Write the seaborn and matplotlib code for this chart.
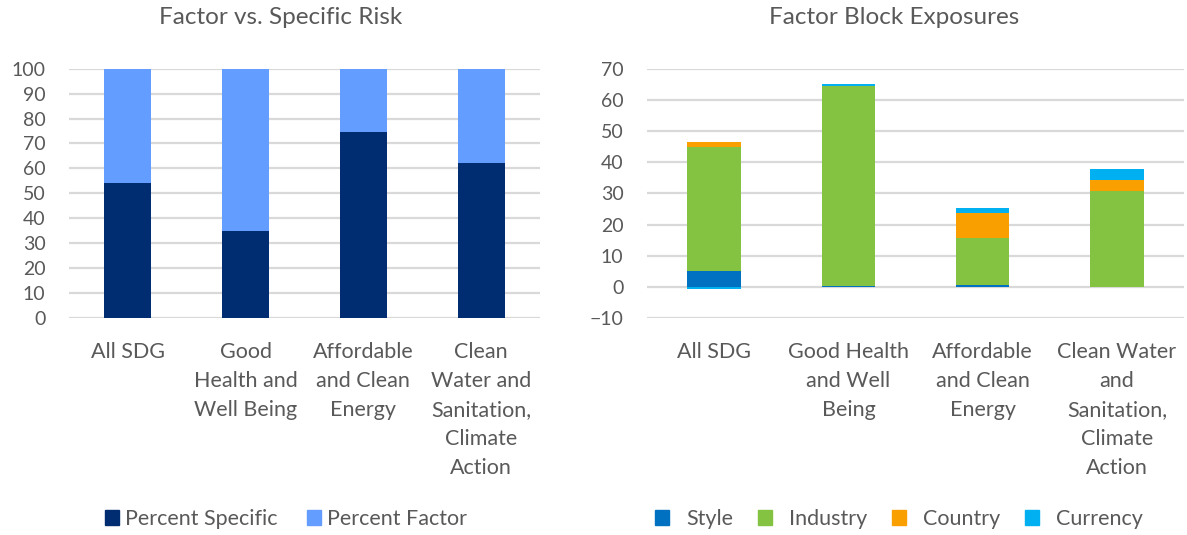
import numpy as np
import pandas as pd
import matplotlib
matplotlib.use("Agg")
import matplotlib.pyplot as plt
import seaborn as sns
from matplotlib.patches import Patch

# ---- data -------------------------------------------------------------
risk_categories = ["All SDG", "Good\nHealth and\nWell Being", "Affordable\nand Clean\nEnergy",
                   "Clean\nWater and\nSanitation,\nClimate\nAction"]
pct_specific = [54.0, 34.7, 74.5, 62.3]
pct_factor = [46.0, 65.3, 25.5, 37.7]

block_categories = ["All SDG", "Good Health\nand Well\nBeing", "Affordable\nand Clean\nEnergy",
                    "Clean Water\nand\nSanitation,\nClimate\nAction"]
style_exp = [5.2, 0.2, 0.7, 0.1]
industry_exp = [39.7, 64.4, 14.9, 30.7]
country_exp = [1.5, 0.0, 8.0, 3.5]
currency_exp = [-0.7, 0.4, 1.7, 3.4]

risk_yticks = list(range(0, 101, 10))
block_yticks = list(range(-10, 71, 10))

# ---- style ------------------------------------------------------------
sns.set_theme(style="white")
plt.rcParams["font.family"] = ["Lato", "DejaVu Sans"]
TEXT = "#595959"
GRID = "#D9D9D9"
FS_TICK = 14
FS_CAT = 15.5
FS_LEG = 15.5
FS_TITLE = 17.5

W, H = 1187, 535
fig = plt.figure(figsize=(W / 100, H / 100), dpi=100)


def px_axes(x0, x1, y0, y1):
    return fig.add_axes([x0 / W, 1 - y1 / H, (x1 - x0) / W, (y1 - y0) / H])


def style_axes(ax, yticks, labels):
    ax.set_ylim(yticks[0], yticks[-1])
    ax.set_xlim(-0.5, len(labels) - 0.5)
    ax.set_yticks(yticks)
    ax.set_xticks(range(len(labels)))
    ax.set_xticklabels(labels, linespacing=1.57, fontsize=FS_CAT)
    ax.tick_params(axis="both", length=0, colors=TEXT)
    ax.tick_params(axis="y", labelsize=FS_TICK, pad=17)
    ax.tick_params(axis="x", pad=17)
    ax.yaxis.grid(True, color=GRID, linewidth=1.6)
    ax.set_axisbelow(True)
    for s in ax.spines.values():
        s.set_visible(False)
    ax.set_xlabel("")
    ax.set_ylabel("")


def stacked(ax, cats, series, colors):
    pos_base = np.zeros(len(cats))
    neg_base = np.zeros(len(cats))
    for vals, col in zip(series, colors):
        vals = np.asarray(vals, dtype=float)
        base = np.where(vals >= 0, pos_base, neg_base)
        df = pd.DataFrame({"cat": cats, "val": vals})
        sns.barplot(data=df, x="cat", y="val", bottom=base, color=col,
                    width=0.4, saturation=1, ax=ax, errorbar=None,
                    edgecolor="none", linewidth=0)
        pos_base = pos_base + np.where(vals >= 0, vals, 0)
        neg_base = neg_base + np.where(vals < 0, vals, 0)


def legend(handles, cx, textpad, colspace):
    fig.legend(handles=handles, loc="center", bbox_to_anchor=(cx / W, 1 - 519 / H),
               ncol=len(handles), frameon=False, fontsize=FS_LEG, labelcolor=TEXT,
               handlelength=0.65, handleheight=0.65, handletextpad=textpad,
               columnspacing=colspace, borderaxespad=0, borderpad=0)


def title(text, cx):
    fig.text(cx / W, 1 - 18 / H, text, ha="center", va="center",
             fontsize=FS_TITLE, color=TEXT)


# ---- left: factor vs specific risk -----------------------------------
ax1 = px_axes(69, 540, 68.7, 318)
c_spec, c_fact = "#002D72", "#639DFF"
stacked(ax1, risk_categories, [pct_specific, pct_factor], [c_spec, c_fact])
style_axes(ax1, risk_yticks, risk_categories)
title("Factor vs. Specific Risk", 281)
legend([Patch(color=c_spec, label="Percent Specific"),
        Patch(color=c_fact, label="Percent Factor")], 286, 0.26, 1.4)

# ---- right: factor block exposures ------------------------------------
ax2 = px_axes(647, 1184, 68.7, 318)
block_colors = ["#0070C0", "#83C341", "#F9A000", "#00B0F0"]
block_names = ["Style", "Industry", "Country", "Currency"]
stacked(ax2, block_categories, [style_exp, industry_exp, country_exp, currency_exp],
        block_colors)
style_axes(ax2, block_yticks, block_categories)
title("Factor Block Exposures", 894)
legend([Patch(color=c, label=n) for n, c in zip(block_names, block_colors)],
       899, 0.8, 1.15)

fig.savefig("out.png", dpi=100)
